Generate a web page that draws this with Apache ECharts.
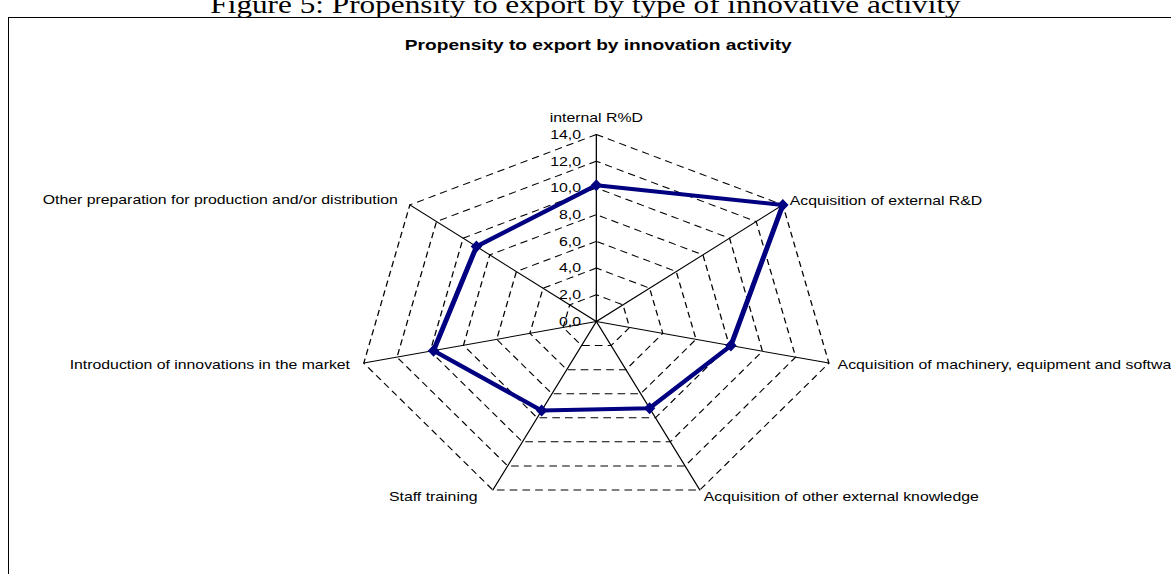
<!DOCTYPE html>
<html>
<head>
<meta charset="utf-8">
<script src="https://cdn.jsdelivr.net/npm/echarts@6/dist/echarts.min.js"></script>
<style>
  html, body { margin: 0; padding: 0; background: #fff; overflow: hidden; width: 1171px; height: 574px; }
  #frame { position: absolute; left: 8px; top: 17px; width: 1300px; height: 700px;
           border-left: 1px solid #000; border-top: 1px solid #000; }
  /* the whole figure is drawn narrower and widened horizontally */
  #chart { position: absolute; left: 0; top: 0; width: 918px; height: 574px;
           transform: scaleX(1.2756); transform-origin: 0 0; }
</style>
</head>
<body>
<div id="frame"></div>
<div id="chart"></div>
<script>
// Innovation activities, listed clockwise from the top spoke
const categories = [
  'internal R%D',
  'Acquisition of external R&D',
  'Acquisition of machinery, equipment and software',
  'Acquisition of other external knowledge',
  'Staff training',
  'Introduction of innovations in the market',
  'Other preparation for production and/or distribution'
];
// Propensity to export (%)
const values = [10.2, 14.0, 8.1, 7.2, 7.4, 9.8, 9.0];
// Value axis ticks
const axisMin = 0;
const axisMax = 14;
const axisStep = 2;

const sansFont = '"Liberation Sans", Arial, sans-serif';
const nameFont = { color: '#000', fontSize: 12.4, fontFamily: sansFont };

// extra spacing between some spoke names and their spoke ends
const nameStyleKey = ['top', 'plain', 'plain', 'plain', 'far', 'near', 'near'];
const nameRich = {
  plain: Object.assign({}, nameFont),
  top:   Object.assign({ padding: [0, 0, 4, 0] }, nameFont),
  near:  Object.assign({ padding: [0, 4, 1, 0] }, nameFont),
  far:   Object.assign({ padding: [0, 9, 0, 0] }, nameFont)
};

// ECharts lays indicators out counter-clockwise; walk the list backwards after the first
const order = [0].concat(categories.map((_, i) => i).slice(1).reverse());

const chart = echarts.init(document.getElementById('chart'), null, { renderer: 'svg' });

chart.setOption({
  backgroundColor: 'transparent',
  animation: false,
  title: [
    {
      text: 'Figure 5: Propensity to export by type of innovative activity',
      left: 454, top: -13, textAlign: 'center',
      textStyle: { fontFamily: '"Liberation Serif", "Times New Roman", serif', fontWeight: 'normal', fontSize: 24.5, color: '#000' }
    },
    {
      text: 'Propensity to export by innovation activity',
      left: 464, top: 32, textAlign: 'center',
      textStyle: { fontFamily: sansFont, fontWeight: 'bold', fontSize: 15, color: '#000' }
    }
  ],
  radar: {
    center: [467.5, 321.5],
    radius: 187,
    startAngle: 90,
    shape: 'polygon',
    splitNumber: (axisMax - axisMin) / axisStep,
    nameGap: 7,
    axisName: Object.assign({
      rich: nameRich,
      formatter: name => '{' + nameStyleKey[categories.indexOf(name)] + '|' + name + '}'
    }, nameFont),
    indicator: order.map((k, j) => ({
      name: categories[k],
      min: axisMin,
      max: axisMax,
      axisLabel: { show: j === 0 }
    })),
    axisLine: { lineStyle: { color: '#000', width: 1 } },
    splitLine: { lineStyle: { color: '#000', width: 1, type: [6, 4] } },
    splitArea: { show: false },
    axisTick: { show: false },
    axisLabel: {
      show: false,
      margin: 12,
      color: '#000',
      fontSize: 12.4,
      fontFamily: sansFont,
      formatter: v => v.toFixed(1).replace('.', ',')
    }
  },
  series: [{
    type: 'radar',
    symbol: 'diamond',
    symbolSize: [9, 12],
    lineStyle: { color: '#000080', width: 4 },
    itemStyle: { color: '#000080' },
    data: [{ value: order.map(k => values[k]), name: 'Propensity to export' }]
  }]
});
</script>
</body>
</html>
